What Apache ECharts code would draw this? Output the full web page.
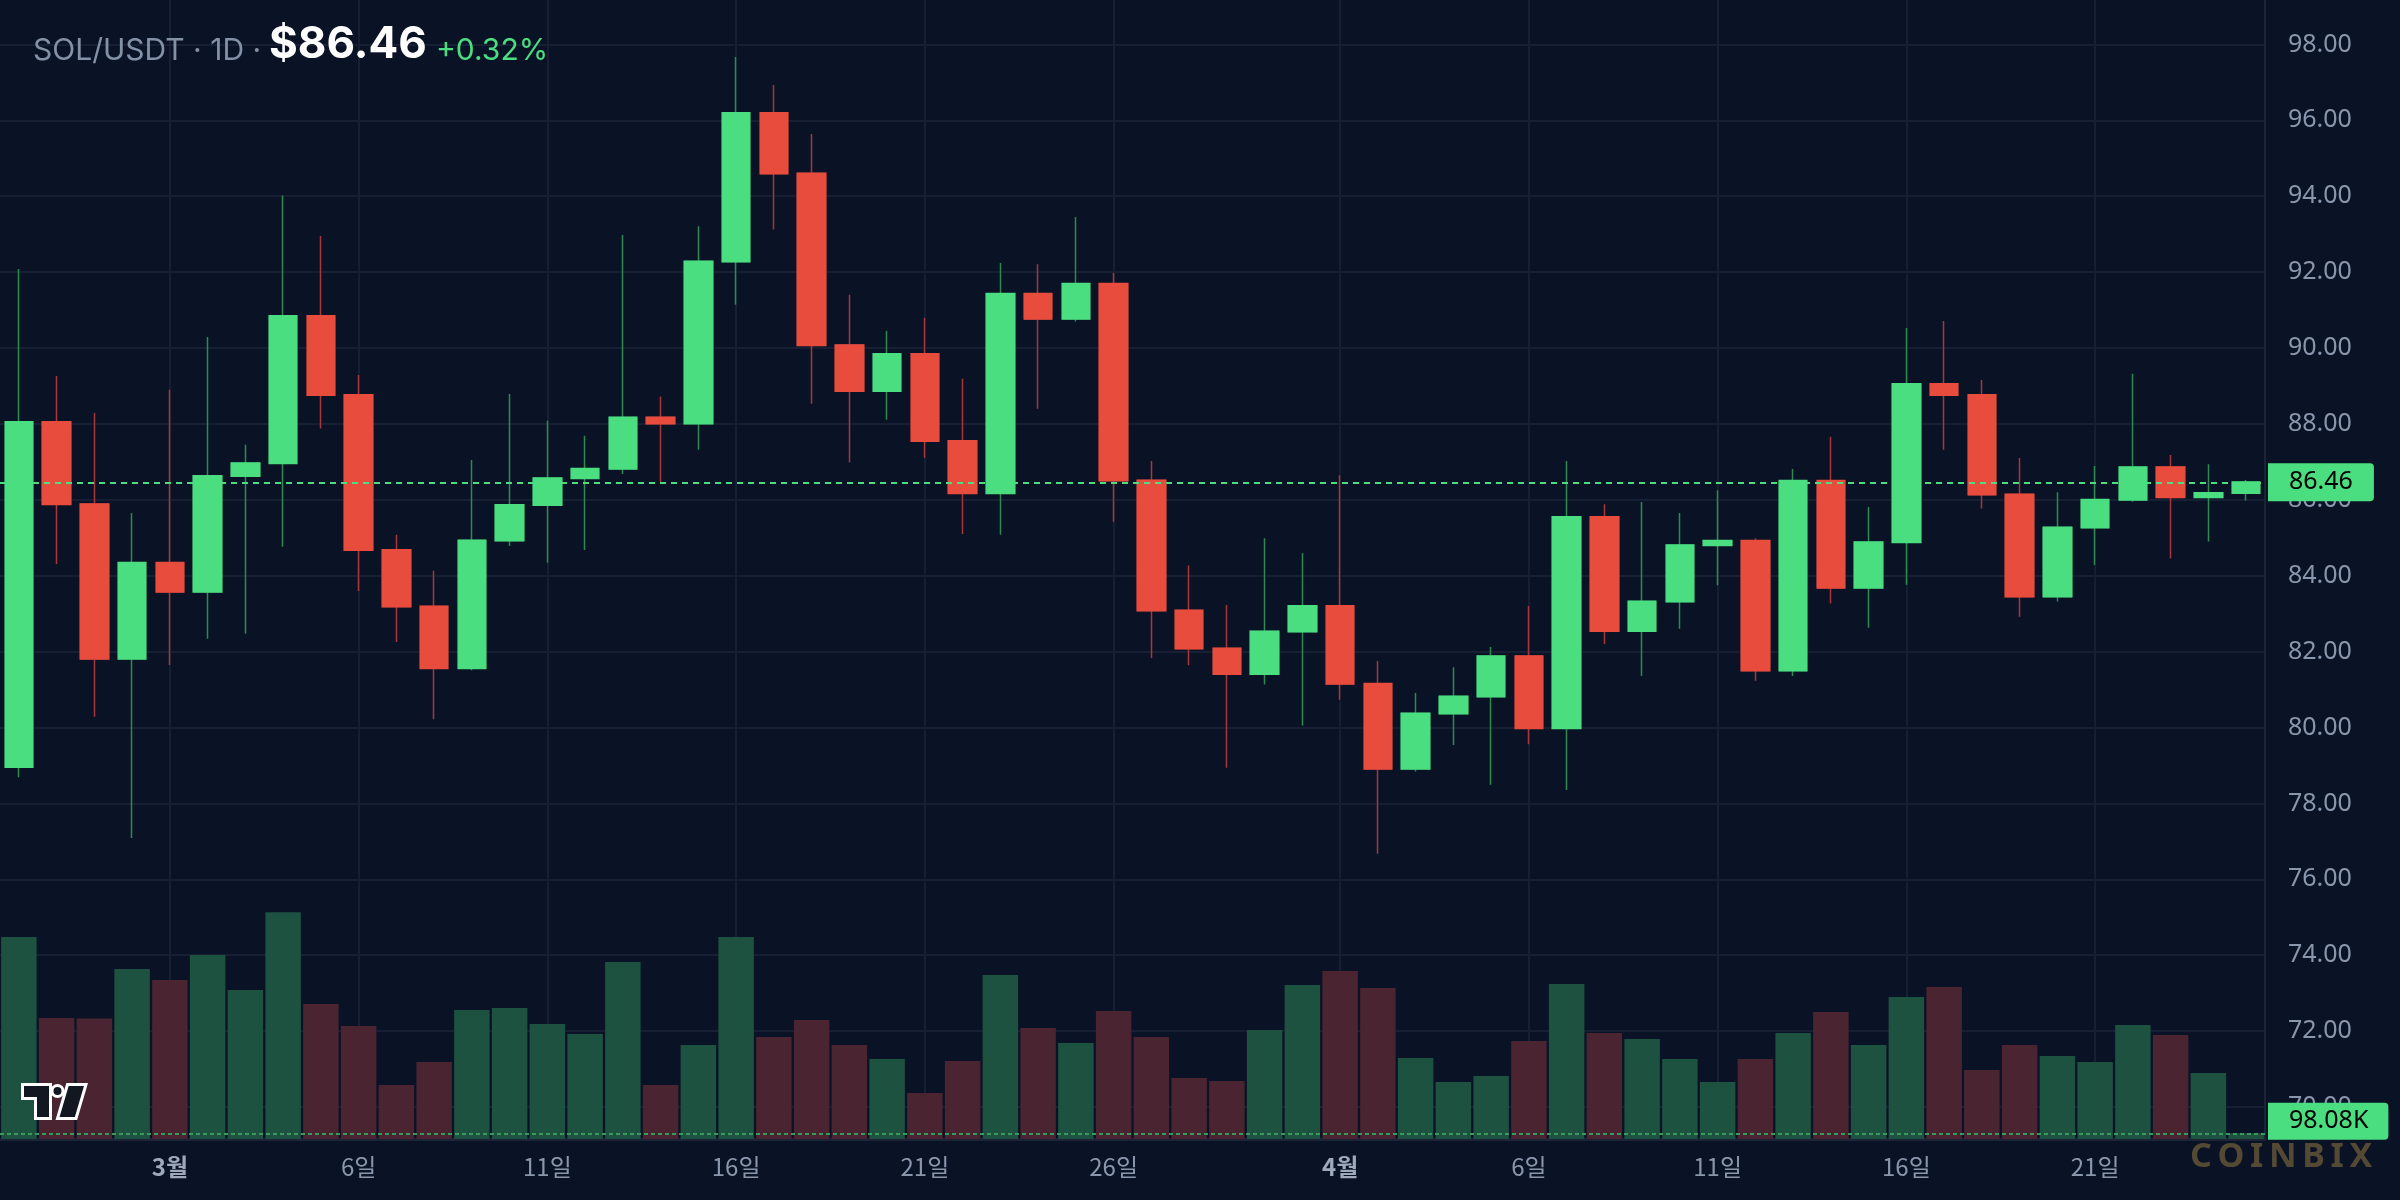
<!DOCTYPE html>
<html>
<head>
<meta charset="utf-8">
<title>SOL/USDT 1D</title>
<script src="https://cdn.jsdelivr.net/npm/echarts@6/dist/echarts.min.js"></script>
<style>
  html, body { margin: 0; padding: 0; background: #0a1226; }
  #chart { width: 2400px; height: 1200px; }
</style>
</head>
<body>
<div id="chart"></div>
<script>
// daily candles, 2/25 .. 4/25
const dates = [
  '2/25', '2/26', '2/27', '2/28',
  '3/1', '3/2', '3/3', '3/4', '3/5', '3/6', '3/7', '3/8', '3/9', '3/10',
  '3/11', '3/12', '3/13', '3/14', '3/15', '3/16', '3/17', '3/18', '3/19', '3/20',
  '3/21', '3/22', '3/23', '3/24', '3/25', '3/26', '3/27', '3/28', '3/29', '3/30', '3/31',
  '4/1', '4/2', '4/3', '4/4', '4/5', '4/6', '4/7', '4/8', '4/9', '4/10',
  '4/11', '4/12', '4/13', '4/14', '4/15', '4/16', '4/17', '4/18', '4/19', '4/20',
  '4/21', '4/22', '4/23', '4/24', '4/25'
];

const openPrices = [
  78.96, 88.05, 85.88, 81.81, 84.34, 83.58, 86.63, 86.96, 90.84, 88.76,
  84.68, 83.19, 81.56, 84.93, 85.86, 86.57, 86.82, 88.17, 88.01, 92.28,
  96.19, 94.60, 90.07, 88.87, 89.84, 87.55, 86.17, 91.43, 90.77, 91.69,
  86.51, 83.08, 82.08, 81.41, 82.53, 83.20, 81.15, 78.91, 80.37, 80.82,
  81.88, 79.98, 85.55, 82.54, 83.32, 84.80, 84.92, 81.50, 86.50, 83.68,
  84.88, 89.05, 88.76, 86.14, 83.45, 85.27, 86.00, 86.86, 86.07, 86.18
];
const closePrices = [
  88.05, 85.88, 81.81, 84.34, 83.58, 86.63, 86.96, 90.84, 88.76, 84.68,
  83.19, 81.56, 84.93, 85.86, 86.57, 86.82, 88.17, 88.01, 92.28, 96.19,
  94.60, 90.07, 88.87, 89.84, 87.55, 86.17, 91.43, 90.77, 91.69, 86.51,
  83.08, 82.08, 81.41, 82.53, 83.20, 81.15, 78.91, 80.37, 80.82, 81.88,
  79.98, 85.55, 82.54, 83.32, 84.80, 84.92, 81.50, 86.50, 83.68, 84.88,
  89.05, 88.76, 86.14, 83.45, 85.27, 86.00, 86.86, 86.07, 86.18, 86.46
];
const highPrices = [
  92.08, 89.26, 88.29, 85.65, 88.90, 90.29, 87.45, 94.02, 92.95, 89.29,
  85.08, 84.13, 87.05, 88.79, 88.08, 87.69, 92.98, 88.72, 93.21, 97.67,
  96.93, 95.64, 91.40, 90.45, 90.79, 89.19, 92.24, 92.21, 93.45, 91.98,
  87.02, 84.27, 83.23, 84.99, 84.60, 86.65, 81.75, 80.91, 81.59, 82.12,
  83.20, 87.02, 85.88, 85.94, 85.65, 86.25, 84.99, 86.81, 87.66, 85.81,
  90.53, 90.71, 89.16, 87.10, 86.20, 86.89, 89.32, 87.18, 86.94, 86.52
];
const lowPrices = [
  78.69, 84.31, 80.28, 77.09, 81.65, 82.34, 82.47, 84.76, 87.88, 83.60,
  82.25, 80.22, 81.51, 84.78, 84.34, 84.68, 86.68, 86.47, 87.32, 91.14,
  93.12, 88.53, 86.98, 88.11, 87.11, 85.10, 85.08, 88.40, 90.70, 85.42,
  81.83, 81.64, 78.94, 81.13, 80.05, 80.73, 76.67, 78.84, 79.54, 78.49,
  79.56, 78.35, 82.20, 81.36, 82.60, 83.75, 81.23, 81.36, 83.27, 82.63,
  83.76, 87.32, 85.77, 82.92, 83.32, 84.28, 85.95, 84.45, 84.90, 85.98
];
// volume in K
const volumes = [
  3474, 2081, 2075, 2924, 2735, 3165, 2563, 3904, 2322, 1944,
  929, 1324, 2219, 2253, 1978, 1806, 3044, 929, 1617, 3474,
  1754, 2047, 1617, 1376, 791, 1342, 2821, 1909, 1651, 2202,
  1754, 1049, 998, 1875, 2649, 2890, 2597, 1393, 980, 1084,
  1686, 2666, 1823, 1720, 1376, 980, 1376, 1823, 2184, 1617,
  2442, 2614, 1187, 1617, 1428, 1324, 1961, 1789, 1135, 98.08
];

const priceTicks = { min: 70, max: 98, step: 2 };
// dates that carry an x label (and a vertical grid line)
const tickDates = ['3/1', '3/6', '3/11', '3/16', '3/21', '3/26', '4/1', '4/6', '4/11', '4/16', '4/21'];

const upColor = '#4ade80';
const downColor = '#e74c3c';
const upWick = '#2f8a52';
const downWick = '#a8363a';
const upVol = '#1d5140';
const downVol = '#4a2430';
const gridColor = '#161f33';
const textColor = '#8a96ab';

const ohlc = dates.map((d, i) => [openPrices[i], closePrices[i], lowPrices[i], highPrices[i]]);
const bodies = dates.map((d, i) => {
  const o = openPrices[i], c = closePrices[i];
  return [o, c, Math.min(o, c), Math.max(o, c)];
});
const volumeData = volumes.map((v, i) => ({
  value: v,
  itemStyle: { color: closePrices[i] >= openPrices[i] ? upVol : downVol }
}));

const lastPrice = closePrices[closePrices.length - 1];
const prevClose = closePrices[closePrices.length - 2];
const change = (lastPrice - prevClose) / prevClose * 100;
const lastVolume = volumes[volumes.length - 1];

const showTick = (i, d) => tickDates.indexOf(d) >= 0;

const chart = echarts.init(document.getElementById('chart'));

const option = {
  backgroundColor: '#0a1226',
  animation: false,
  title: [
    {
      text: 'SOL/USDT · 1D ·', left: 33, top: 36, padding: 0,
      textStyle: { color: '#8391a7', fontSize: 30, fontWeight: 'normal', fontFamily: 'Inter' }
    },
    {
      text: '$' + lastPrice.toFixed(2), left: 269, top: 23, padding: 0,
      textStyle: { color: '#ffffff', fontSize: 44, fontWeight: 'bold', fontFamily: 'Inter' }
    },
    {
      text: (change >= 0 ? '+' : '') + change.toFixed(2) + '%', left: 436, top: 36, padding: 0,
      textStyle: { color: upColor, fontSize: 30, fontWeight: 'normal', fontFamily: 'Inter' }
    }
  ],
  grid: [
    { left: -2, right: 135, top: 44.4, height: 1062.6 },
    { left: -2, right: 135, top: 0, height: 1139 }
  ],
  xAxis: [
    { type: 'category', gridIndex: 0, data: dates, show: false },
    {
      type: 'category', gridIndex: 1, data: dates,
      axisLine: { lineStyle: { color: '#1c2436', width: 3 } },
      axisTick: { show: false },
      axisLabel: {
        interval: showTick,
        margin: 16,
        color: textColor,
        fontSize: 24,
        fontFamily: 'Noto Sans CJK KR',
        formatter: d => {
          const parts = d.split('/');
          return +parts[1] === 1 ? '{m|' + parts[0] + '월}' : parts[1] + '일';
        },
        rich: {
          m: { fontSize: 24, fontWeight: 'bold', color: '#9ea9bb', fontFamily: 'Noto Sans CJK KR' }
        }
      },
      splitLine: {
        show: true, interval: showTick, alignWithLabel: true,
        lineStyle: { color: gridColor, width: 2 }
      }
    }
  ],
  yAxis: [
    {
      type: 'value', gridIndex: 0, position: 'right',
      min: priceTicks.min, max: priceTicks.max, interval: priceTicks.step,
      axisLine: { show: false },
      axisTick: { show: false },
      axisLabel: {
        margin: 23, color: textColor, fontSize: 25, fontFamily: 'Noto Sans',
        formatter: v => v.toFixed(2)
      },
      splitLine: { lineStyle: { color: gridColor, width: 2 } }
    },
    {
      type: 'value', gridIndex: 1, position: 'right', min: 0, max: 19600,
      axisLine: { show: true, lineStyle: { color: '#1c2436', width: 2 } },
      axisTick: { show: false },
      axisLabel: { show: false },
      splitLine: { show: false }
    }
  ],
  series: [
    {
      type: 'bar', name: 'Volume', xAxisIndex: 1, yAxisIndex: 1,
      data: volumeData, barWidth: '94%', z: 1, silent: true,
      markLine: {
        symbol: 'none', silent: true, animation: false,
        lineStyle: { color: '#3a9a5c', type: [4, 3], width: 2 },
        label: {
          position: 'end', distance: 3,
          formatter: lastVolume.toFixed(2) + 'K',
          backgroundColor: upColor, color: '#000', fontSize: 25, fontFamily: 'Noto Sans',
          padding: [6, 20, 6, 21], borderRadius: [0, 4, 4, 0],
          offset: [0, -12]
        },
        emphasis: { disabled: true },
        data: [{ yAxis: lastVolume }]
      }
    },
    {
      type: 'candlestick', name: 'wick', xAxisIndex: 0, yAxisIndex: 0,
      data: ohlc, barWidth: 28, z: 3, silent: true,
      itemStyle: {
        color: upColor, color0: downColor,
        borderColor: upWick, borderColor0: downWick, borderWidth: 1.5
      }
    },
    {
      type: 'candlestick', name: 'SOL/USDT', xAxisIndex: 0, yAxisIndex: 0,
      data: bodies, barWidth: 28, z: 4, silent: true,
      itemStyle: {
        color: upColor, color0: downColor,
        borderColor: upColor, borderColor0: downColor, borderWidth: 2
      },
      markLine: {
        symbol: 'none', silent: true, animation: false,
        lineStyle: { color: upColor, type: [6, 5], width: 2 },
        label: {
          position: 'end', distance: 3,
          formatter: lastPrice.toFixed(2),
          backgroundColor: upColor, color: '#000', fontSize: 25, fontFamily: 'Noto Sans',
          padding: [7, 21, 6, 21], borderRadius: [0, 4, 4, 0]
        },
        emphasis: { disabled: true },
        data: [{ yAxis: lastPrice }]
      }
    }
  ],
  graphic: [
    // tradingview mark, bottom left
    {
      type: 'polygon', z: 100,
      shape: { points: [[22.5, 1084.5], [50.5, 1084.5], [50.5, 1118.5], [35.5, 1118.5], [35.5, 1098.5], [22.5, 1098.5]] },
      style: { fill: '#131722', stroke: '#ffffff', lineWidth: 3 }
    },
    {
      type: 'circle', z: 100,
      shape: { cx: 57.5, cy: 1091, r: 5.5 },
      style: { fill: '#131722', stroke: '#ffffff', lineWidth: 3 }
    },
    {
      type: 'polygon', z: 100,
      shape: { points: [[67.5, 1084.5], [86, 1084.5], [76, 1118.5], [57.5, 1118.5]] },
      style: { fill: '#131722', stroke: '#ffffff', lineWidth: 3 }
    },
    {
      type: 'text', z: 100, x: 2190, y: 1140,
      style: {
        text: 'C\u2006O\u2006I\u2006N\u2006B\u2006I\u2006X',
        fill: '#544a33', fontSize: 34, fontWeight: 'bold', fontFamily: 'Noto Sans',
        verticalAlign: 'top'
      }
    }
  ]
};

chart.setOption(option);
</script>
</body>
</html>
